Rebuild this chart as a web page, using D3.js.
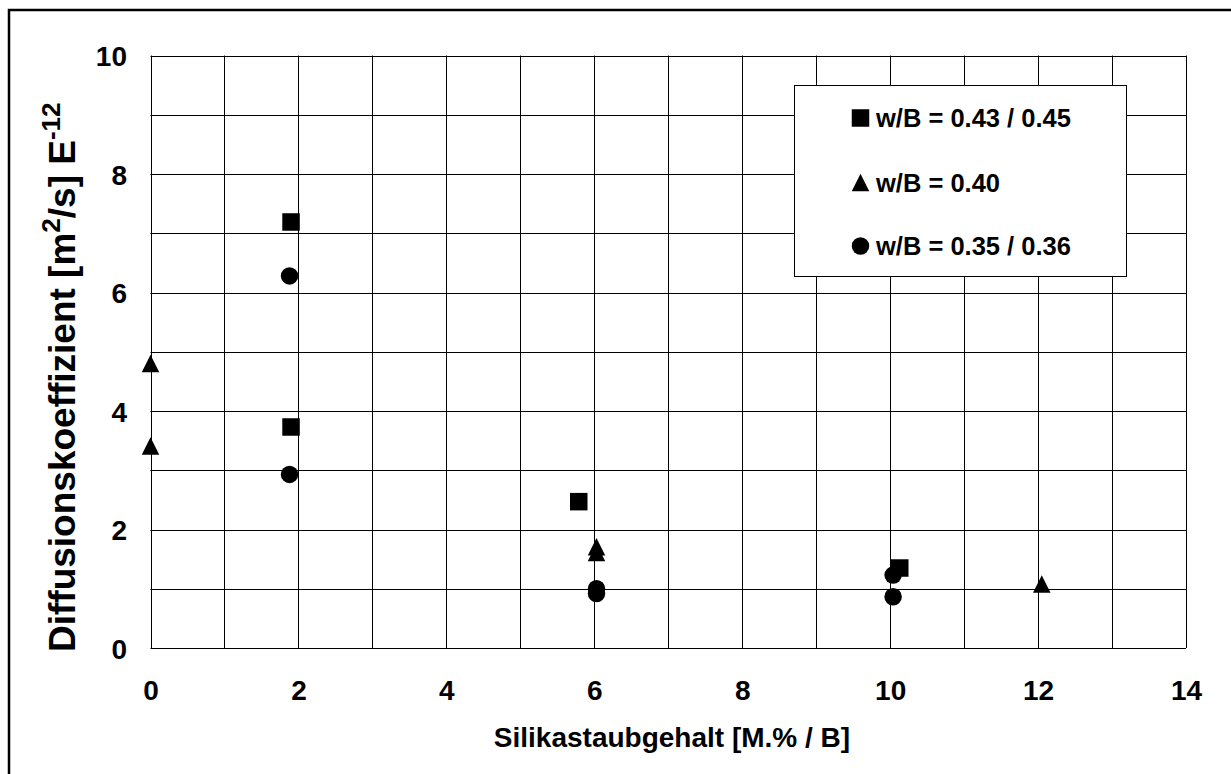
<!DOCTYPE html>
<html>
<head>
<meta charset="utf-8">
<script src="https://cdn.jsdelivr.net/npm/d3@7"></script>
<style>
  html, body { margin: 0; padding: 0; background: #fff; }
  svg { display: block; font-family: "Liberation Sans", Arial, sans-serif; font-weight: bold; }
</style>
</head>
<body>
<svg id="chart" width="1231" height="774"></svg>
<script>
// Silica fume content vs. chloride diffusion coefficient, three w/B groups
const xTicks = [0, 2, 4, 6, 8, 10, 12, 14];
const yTicks = [0, 2, 4, 6, 8, 10];

const seriesNames = ["w/B = 0.43 / 0.45", "w/B = 0.40", "w/B = 0.35 / 0.36"];

const squareX = [1.9, 1.9, 5.79, 10.13];
const squareY = [7.19, 3.73, 2.47, 1.35];

const triangleX = [0, 0, 6.03, 6.03, 12.05];
const triangleY = [4.80, 3.41, 1.71, 1.61, 1.08];

const circleX = [1.88, 1.88, 6.03, 6.03, 10.04, 10.04];
const circleY = [6.28, 2.93, 1.00, 0.92, 1.23, 0.865];

const svg = d3.select("#chart");

// outer frame (runs past the right and bottom edge of the page)
svg.append("rect")
  .attr("x", 9).attr("y", 10)
  .attr("width", 1300).attr("height", 900)
  .attr("fill", "#fff").attr("stroke", "#000").attr("stroke-width", 2.5);

const plot = { left: 150.5, right: 1186, top: 55.5, bottom: 648 };

const x = d3.scaleLinear().domain([0, 14]).range([plot.left, plot.right]);
const y = d3.scaleLinear().domain([0, 10]).range([plot.bottom, plot.top]);

// grid at every integer
const g = svg.append("g");
g.selectAll("line.vg").data(d3.range(0, 15)).join("line")
  .attr("x1", d => Math.round(x(d)) + 0.5).attr("x2", d => Math.round(x(d)) + 0.5)
  .attr("y1", plot.top).attr("y2", plot.bottom)
  .attr("stroke", "#000").attr("stroke-width", 1);
g.selectAll("line.hg").data(d3.range(0, 11)).join("line")
  .attr("y1", d => Math.round(y(d)) + 0.5).attr("y2", d => Math.round(y(d)) + 0.5)
  .attr("x1", plot.left).attr("x2", plot.right)
  .attr("stroke", "#000").attr("stroke-width", 1);

// axes: labels only, no tick marks
const xAxis = d3.axisBottom(x).tickValues(xTicks).tickSize(0).tickPadding(0).tickFormat(d3.format("d"));
const yAxis = d3.axisLeft(y).tickValues(yTicks).tickSize(0).tickPadding(0).tickFormat(d3.format("d"));

const gx = svg.append("g").attr("transform", `translate(0,${plot.bottom})`).call(xAxis);
gx.select(".domain").remove();
gx.selectAll("text")
  .attr("font-size", 28).attr("font-family", "Liberation Sans, Arial, sans-serif")
  .attr("font-weight", "bold").attr("fill", "#000")
  .attr("dy", null).attr("y", 52);

const gy = svg.append("g").attr("transform", `translate(127,0)`).call(yAxis);
gy.select(".domain").remove();
gy.selectAll("text")
  .attr("font-size", 28).attr("font-family", "Liberation Sans, Arial, sans-serif")
  .attr("font-weight", "bold").attr("fill", "#000")
  .attr("x", 0).attr("dy", "0.36em");

// axis titles
svg.append("text")
  .attr("x", 672).attr("y", 747)
  .attr("text-anchor", "middle")
  .attr("font-size", 28)
  .text("Silikastaubgehalt [M.% / B]");

const yt = svg.append("text")
  .attr("transform", "translate(75,652) rotate(-90)")
  .attr("text-anchor", "start")
  .attr("font-size", 37);
yt.append("tspan").text("Diffusionskoeffizient [m");
yt.append("tspan").attr("font-size", 26).attr("dy", -15).text("2");
yt.append("tspan").attr("dy", 15).text("/s] E");
yt.append("tspan").attr("font-size", 26).attr("dy", -15).text("-12");

// marker shapes, bbox-centred, side length S
const S = 17.5;
function squarePath(cx, cy) {
  const h = S / 2;
  return `M${cx - h},${cy - h}H${cx + h}V${cy + h}H${cx - h}Z`;
}
function trianglePath(cx, cy) {
  const h = S / 2;
  return `M${cx},${cy - h}L${cx + h},${cy + h}L${cx - h},${cy + h}Z`;
}

const marks = svg.append("g");
marks.selectAll("path.sq").data(d3.zip(squareX, squareY)).join("path")
  .attr("d", d => squarePath(x(d[0]), y(d[1]))).attr("fill", "#000");
marks.selectAll("path.tr").data(d3.zip(triangleX, triangleY)).join("path")
  .attr("d", d => trianglePath(x(d[0]), y(d[1]))).attr("fill", "#000");
marks.selectAll("circle").data(d3.zip(circleX, circleY)).join("circle")
  .attr("cx", d => x(d[0])).attr("cy", d => y(d[1])).attr("r", S / 2).attr("fill", "#000");

// legend
const leg = svg.append("g");
leg.append("rect")
  .attr("x", 794.5).attr("y", 85.5).attr("width", 332).attr("height", 191)
  .attr("fill", "#fff").attr("stroke", "#000").attr("stroke-width", 1);

const legRows = [118, 182.5, 246];
const legMarkerX = 860.5;
leg.append("path").attr("d", squarePath(legMarkerX, legRows[0])).attr("fill", "#000");
leg.append("path").attr("d", trianglePath(legMarkerX, legRows[1])).attr("fill", "#000");
leg.append("circle").attr("cx", legMarkerX).attr("cy", legRows[2]).attr("r", S / 2).attr("fill", "#000");

leg.selectAll("text").data(seriesNames).join("text")
  .attr("x", 876).attr("y", (d, i) => legRows[i] + 9)
  .attr("font-size", 25.5)
  .text(d => d);
</script>
</body>
</html>
